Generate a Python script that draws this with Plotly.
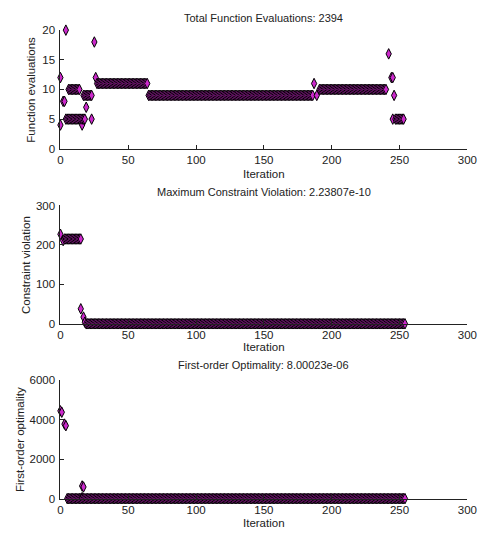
import plotly.graph_objects as go

# ---------------- data ----------------
# Subplot 1: function evaluations per iteration
fe_points_iter = [0, 0, 2, 3, 4, 16, 19, 23, 25, 26, 187, 189, 242, 244, 245, 246, 245]
fe_points_val = [4, 12, 8, 8, 20, 4, 7, 5, 18, 12, 11, 9, 16, 12, 12, 9, 5]
fe_run_start = [6, 4, 17, 27, 65, 191, 247]
fe_run_end = [14, 18, 23, 64, 186, 240, 253]
fe_run_val = [10, 5, 9, 11, 9, 10, 5]

# Subplot 2: maximum constraint violation per iteration
cv_points_iter = [0, 2, 15, 17, 18]
cv_points_val = [227, 211, 38, 17, 4]
cv_run_start = [3, 19]
cv_run_end = [15, 254]
cv_run_val = [215, 0]

# Subplot 3: first-order optimality per iteration
fo_points_iter = [0, 1, 3, 4, 16, 17, 16]
fo_points_val = [4450, 4380, 3780, 3700, 650, 600, 60]
fo_run_start = [5]
fo_run_end = [254]
fo_run_val = [10]

titles = ["Total Function Evaluations: 2394",
          "Maximum Constraint Violation: 2.23807e-10",
          "First-order Optimality: 8.00023e-06"]
ylabels = ["Function evaluations", "Constraint violation", "First-order optimality"]
yranges = [[0, 20], [0, 300], [0, 6000]]
ydticks = [5, 100, 2000]
xlabel = "Iteration"


def build(p_iter, p_val, r_start, r_end, r_val):
    pts = list(zip(p_iter, p_val))
    for s, e, v in zip(r_start, r_end, r_val):
        pts += [(i, v) for i in range(s, e + 1)]
    pts.sort(key=lambda t: t[0])
    return [p[0] for p in pts], [p[1] for p in pts]


series = [
    build(fe_points_iter, fe_points_val, fe_run_start, fe_run_end, fe_run_val),
    build(cv_points_iter, cv_points_val, cv_run_start, cv_run_end, cv_run_val),
    build(fo_points_iter, fo_points_val, fo_run_start, fo_run_end, fo_run_val),
]

# ---------------- layout ----------------
W, H = 490, 541
x_px = (59, 477)
y_px = [(24.7, 146), (204, 325), (382.7, 504)]
title_y = [12, 190, 367.5]
xlab_y = [172, 349, 529]
ylab_x = [29, 23, 17]

FONT = "Arial, Liberation Sans, sans-serif"

fig = go.Figure()
layout = dict(
    width=W, height=H,
    margin=dict(l=0, r=0, t=0, b=0),
    paper_bgcolor="white", plot_bgcolor="white",
    showlegend=False,
    font=dict(family=FONT, size=11, color="black"),
    annotations=[],
)

for k in range(3):
    xs, ys = series[k]
    xa = "x" if k == 0 else f"x{k+1}"
    ya = "y" if k == 0 else f"y{k+1}"
    fig.add_trace(go.Scatter(
        x=xs, y=ys, mode="markers", xaxis=xa, yaxis=ya, cliponaxis=False,
        marker=dict(symbol="diamond-tall", size=7.5, color="#cc28cc",
                    line=dict(color="black", width=1)),
    ))
    y0, y1 = y_px[k]
    axis_common = dict(showline=True, linecolor="#222222", linewidth=1,
                       ticks="inside", ticklen=4, tickcolor="#222222",
                       showgrid=False, zeroline=False, mirror=False,
                       tickfont=dict(family=FONT, size=11.5, color="#222222"))
    layout["xaxis" if k == 0 else f"xaxis{k+1}"] = dict(
        domain=[x_px[0] / W, x_px[1] / W], range=[0, 300], dtick=50, tick0=0,
        anchor=ya, **axis_common)
    layout["yaxis" if k == 0 else f"yaxis{k+1}"] = dict(
        domain=[1 - y1 / H, 1 - y0 / H], range=yranges[k], dtick=ydticks[k], tick0=0,
        anchor=xa, ticklabelstandoff=2, **axis_common)
    cx = (x_px[0] + x_px[1]) / 2
    layout["annotations"] += [
        dict(text=titles[k], x=cx / W, y=1 - title_y[k] / H, xref="paper", yref="paper",
             showarrow=False, xanchor="center", yanchor="middle",
             font=dict(family=FONT, size=11, color="#222222")),
        dict(text=xlabel, x=cx / W, y=1 - xlab_y[k] / H, xref="paper", yref="paper",
             showarrow=False, xanchor="center", yanchor="middle",
             font=dict(family=FONT, size=11.5, color="#222222")),
        dict(text=ylabels[k], x=ylab_x[k] / W, y=1 - (y0 + y1) / 2 / H, xref="paper",
             yref="paper", showarrow=False, xanchor="center", yanchor="middle",
             textangle=-90, font=dict(family=FONT, size=11.5, color="#222222")),
    ]

fig.update_layout(**layout)
fig.write_html("out.html")
